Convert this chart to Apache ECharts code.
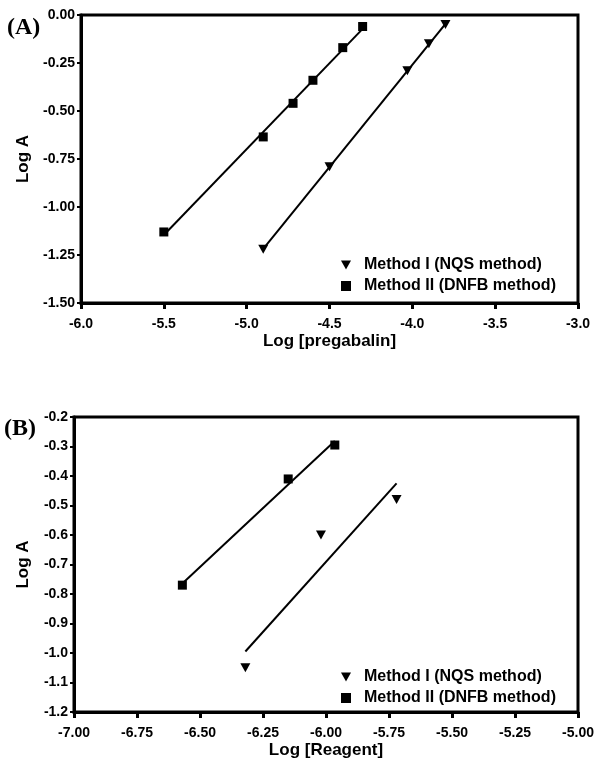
<!DOCTYPE html>
<html><head><meta charset="utf-8">
<script src="https://cdn.jsdelivr.net/npm/echarts@6/dist/echarts.min.js"></script>
<style>html,body{margin:0;padding:0;background:#fff}#c{width:600px;height:766px}</style>
</head><body><div id="c"></div>
<script>
// ---- Panel A data ----
const aTriX = [-4.9, -4.5, -4.03, -3.9, -3.8];
const aTriY = [-1.22, -0.79, -0.29, -0.15, -0.05];
const aSqX = [-5.5, -4.9, -4.72, -4.6, -4.42, -4.3];
const aSqY = [-1.13, -0.635, -0.46, -0.34, -0.17, -0.06];
const aXTicks = [-6.0, -5.5, -5.0, -4.5, -4.0, -3.5, -3.0];
const aYTicks = [-1.5, -1.25, -1.0, -0.75, -0.5, -0.25, 0.0];
// ---- Panel B data ----
const bTriX = [-6.32, -6.02, -5.72];
const bTriY = [-1.05, -0.60, -0.48];
const bSqX = [-6.57, -6.15, -5.965];
const bSqY = [-0.77, -0.41, -0.295];
const bXTicks = [-7.0, -6.75, -6.5, -6.25, -6.0, -5.75, -5.5, -5.25, -5.0];
const bYTicks = [-1.2, -1.1, -1.0, -0.9, -0.8, -0.7, -0.6, -0.5, -0.4, -0.3, -0.2];

const nameI = 'Method I (NQS method)';
const nameII = 'Method II (DNFB method)';
const FONT = '"Liberation Sans", Arial, sans-serif';
const triPath = 'path://M0,0L10,0L5,9Z';

function pairs(xs, ys) { return xs.map((x, i) => [x, ys[i]]); }
function fitLine(xs, ys) {
  const n = xs.length;
  const mx = xs.reduce((a, b) => a + b, 0) / n;
  const my = ys.reduce((a, b) => a + b, 0) / n;
  let sxy = 0, sxx = 0;
  for (let i = 0; i < n; i++) { sxy += (xs[i] - mx) * (ys[i] - my); sxx += (xs[i] - mx) ** 2; }
  const m = sxy / sxx, b = my - m * mx;
  const x0 = Math.min(...xs), x1 = Math.max(...xs);
  return [[x0, m * x0 + b], [x1, m * x1 + b]];
}

function xAxisCfg(grid, ticks, dec, name) {
  return {
    type: 'value', gridIndex: grid, min: ticks[0], max: ticks[ticks.length - 1],
    interval: ticks[1] - ticks[0],
    name: name, nameLocation: 'middle', nameGap: 30,
    nameTextStyle: { fontFamily: FONT, fontWeight: 'bold', fontSize: 17, color: '#000' },
    axisLine: { onZero: false, lineStyle: { color: '#000', width: 3 } },
    axisTick: { length: 6, lineStyle: { color: '#000', width: 3 } },
    axisLabel: { margin: 14, fontFamily: FONT, fontWeight: 'bold', fontSize: 14, color: '#000',
      formatter: v => v.toFixed(dec) },
    splitLine: { show: false }
  };
}
function yAxisCfg(grid, ticks, dec, gap) {
  return {
    type: 'value', gridIndex: grid, min: ticks[0], max: ticks[ticks.length - 1],
    interval: ticks[1] - ticks[0],
    name: 'Log A', nameLocation: 'middle', nameGap: gap,
    nameTextStyle: { fontFamily: FONT, fontWeight: 'bold', fontSize: 17, color: '#000' },
    axisLine: { onZero: false, lineStyle: { color: '#000', width: 3 } },
    axisTick: { length: 4, lineStyle: { color: '#000', width: 2 } },
    axisLabel: { margin: 6, fontFamily: FONT, fontWeight: 'bold', fontSize: 14, color: '#000',
      formatter: v => v.toFixed(dec) },
    splitLine: { show: false }
  };
}
function legendCfg(left, top) {
  return {
    left: left, top: top, orient: 'vertical', itemGap: 5, itemWidth: 10, itemHeight: 10,
    selectedMode: false,
    data: [{ name: nameI, icon: triPath }, { name: nameII, icon: 'rect' }],
    textStyle: { fontFamily: FONT, fontWeight: 'bold', fontSize: 16, color: '#000', lineHeight: 16,
      padding: [0, 0, 0, 8] }
  };
}
const lineStyle = { color: '#000', width: 2 };
const mk = { color: '#000', opacity: 1 };

const option = {
  backgroundColor: '#fff',
  animation: false,
  grid: [
    { left: 81, top: 15, width: 497, height: 288, show: true, borderColor: '#000', borderWidth: 3 },
    { left: 74, top: 417, width: 504, height: 295, show: true, borderColor: '#000', borderWidth: 3 }
  ],
  xAxis: [xAxisCfg(0, aXTicks, 1, 'Log [pregabalin]'), xAxisCfg(1, bXTicks, 2, 'Log [Reagent]')],
  yAxis: [yAxisCfg(0, aYTicks, 2, 49), yAxisCfg(1, bYTicks, 1, 42)],
  legend: [legendCfg(336, 252), legendCfg(336, 664)],
  graphic: [
    { type: 'text', left: 7, top: 16, style: { text: '(A)', font: 'bold 24px "Liberation Serif", "Times New Roman", serif', fill: '#000' } },
    { type: 'text', left: 4, top: 417, style: { text: '(B)', font: 'bold 24px "Liberation Serif", "Times New Roman", serif', fill: '#000' } }
  ],
  series: [
    { type: 'line', xAxisIndex: 0, yAxisIndex: 0, data: fitLine(aTriX, aTriY), symbol: 'none', lineStyle, silent: true, z: 1 },
    { type: 'line', xAxisIndex: 0, yAxisIndex: 0, data: fitLine(aSqX, aSqY), symbol: 'none', lineStyle, silent: true, z: 1 },
    { type: 'line', xAxisIndex: 1, yAxisIndex: 1, data: fitLine(bTriX, bTriY), symbol: 'none', lineStyle, silent: true, z: 1 },
    { type: 'line', xAxisIndex: 1, yAxisIndex: 1, data: fitLine(bSqX, bSqY), symbol: 'none', lineStyle, silent: true, z: 1 },
    { name: nameI, type: 'scatter', xAxisIndex: 0, yAxisIndex: 0, data: pairs(aTriX, aTriY), symbol: triPath, symbolSize: [10, 9], itemStyle: mk, z: 3 },
    { name: nameII, type: 'scatter', xAxisIndex: 0, yAxisIndex: 0, data: pairs(aSqX, aSqY), symbol: 'rect', symbolSize: 9, itemStyle: mk, z: 3 },
    { name: nameI, type: 'scatter', xAxisIndex: 1, yAxisIndex: 1, data: pairs(bTriX, bTriY), symbol: triPath, symbolSize: [10, 9], itemStyle: mk, z: 3 },
    { name: nameII, type: 'scatter', xAxisIndex: 1, yAxisIndex: 1, data: pairs(bSqX, bSqY), symbol: 'rect', symbolSize: 9, itemStyle: mk, z: 3 }
  ]
};
echarts.init(document.getElementById('c'), null, { renderer: 'canvas' }).setOption(option);
</script>
</body></html>
